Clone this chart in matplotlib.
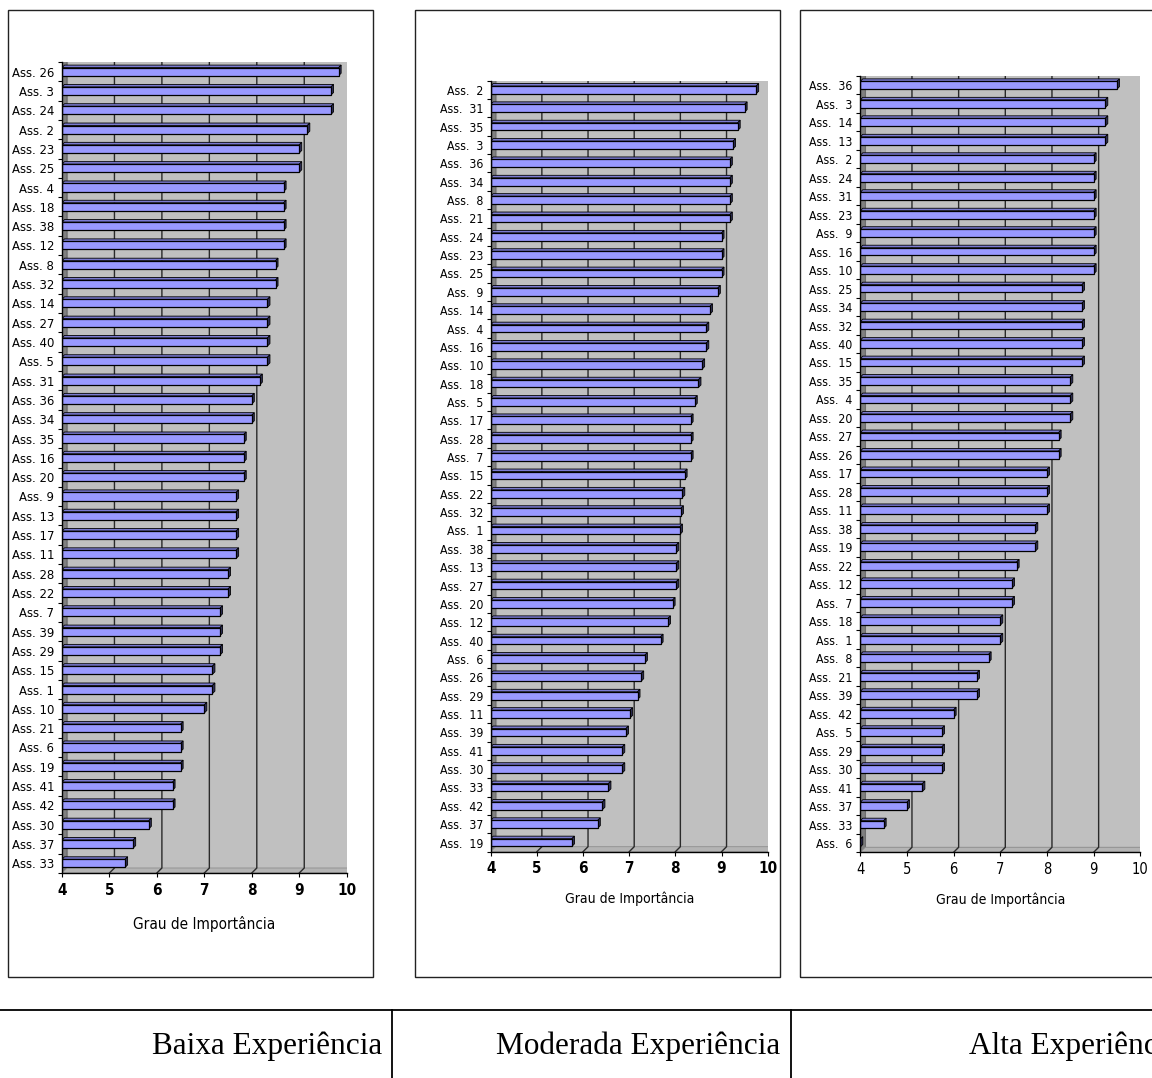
import numpy as np
import matplotlib
matplotlib.use("Agg")
import matplotlib.pyplot as plt
from matplotlib import font_manager as fm
from matplotlib.patches import Polygon, Rectangle
from matplotlib.transforms import IdentityTransform
from matplotlib.lines import Line2D

W, H, DPI = 1152, 1078, 100


def narrow_font():
    # procura uma fonte estreita instalada (tipo Arial Narrow)
    for f in fm.fontManager.ttflist:
        if "Narrow" in f.name and "Liberation" in f.name and f.weight in (400, "normal"):
            return f.name, False
    for f in fm.fontManager.ttflist:
        if f.stretch in ("condensed", "semi-condensed", 500 - 100) or "Condensed" in f.name:
            return f.name, True
    return "Liberation Sans", False


NARROW, _cond = narrow_font()
NARROW_FAM = [NARROW, "Liberation Sans", "DejaVu Sans"]
STRETCH = "condensed" if _cond else "normal"

# Baixa Experiência (top -> bottom)
baixa_lab = [26, 3, 24, 2, 23, 25, 4, 18, 38, 12, 8, 32, 14, 27, 40, 5, 31, 36, 34, 35, 16,
             20, 9, 13, 17, 11, 28, 22, 7, 39, 29, 15, 1, 10, 21, 6, 19, 41, 42, 30, 37, 33]
baixa_val = [9.83, 9.67, 9.67, 9.17, 9.0, 9.0, 8.67, 8.67, 8.67, 8.67, 8.5, 8.5, 8.33, 8.33,
             8.33, 8.33, 8.17, 8.0, 8.0, 7.83, 7.83, 7.83, 7.67, 7.67, 7.67, 7.67, 7.5, 7.5,
             7.33, 7.33, 7.33, 7.17, 7.17, 7.0, 6.5, 6.5, 6.5, 6.33, 6.33, 5.83, 5.5, 5.33]

# Moderada Experiência
mod_lab = [2, 31, 35, 3, 36, 34, 8, 21, 24, 23, 25, 9, 14, 4, 16, 10, 18, 5, 17, 28, 7,
           15, 22, 32, 1, 38, 13, 27, 20, 12, 40, 6, 26, 29, 11, 39, 41, 30, 33, 42, 37, 19]
mod_val = [9.75, 9.5, 9.35, 9.25, 9.18, 9.18, 9.18, 9.18, 9.0, 9.0, 9.0, 8.92, 8.75, 8.67,
           8.67, 8.58, 8.5, 8.42, 8.33, 8.33, 8.33, 8.2, 8.15, 8.12, 8.1, 8.02, 8.02, 8.02,
           7.94, 7.84, 7.68, 7.34, 7.26, 7.18, 7.02, 6.93, 6.85, 6.85, 6.55, 6.42, 6.32, 5.76]

# Alta Experiência
alta_lab = [36, 3, 14, 13, 2, 24, 31, 23, 9, 16, 10, 25, 34, 32, 40, 15, 35, 4, 20, 27, 26,
            17, 28, 11, 38, 19, 22, 12, 7, 18, 1, 8, 21, 39, 42, 5, 29, 30, 41, 37, 33, 6]
alta_val = [9.5, 9.25, 9.25, 9.25, 9.0, 9.0, 9.0, 9.0, 9.0, 9.0, 9.0, 8.75, 8.75, 8.75, 8.75,
            8.75, 8.5, 8.5, 8.5, 8.25, 8.25, 8.0, 8.0, 8.0, 7.75, 7.75, 7.35, 7.25, 7.25, 7.0,
            7.0, 6.75, 6.5, 6.5, 6.0, 5.75, 5.75, 5.75, 5.33, 5.0, 4.5, 4.0]

grupos = ["Baixa Experiência", "Moderada Experiência", "Alta Experiência"]
xticks = [4, 5, 6, 7, 8, 9, 10]

fig = plt.figure(figsize=(W / DPI, H / DPI), dpi=DPI)
fig.patch.set_facecolor("white")

WALL = 5.0   # profundidade da parede (px)
BAR = 2.5    # profundidade da barra (px)


def poly(ax, pts, **kw):
    a = np.array(pts, dtype=float)
    p = ax.transData.transform(a[:, :2]) + a[:, 2:]
    ax.add_artist(Polygon(p, closed=True, transform=IdentityTransform(), **kw))


def line(ax, pts, **kw):
    a = np.array(pts, dtype=float)
    q = ax.transData.transform(a[:, :2]) + a[:, 2:]
    ax.add_artist(Line2D(q[:, 0], q[:, 1], transform=IdentityTransform(), **kw))


def panel(box, area, labels, values, sep, lab_fs, tick_fs, tick_w, xl_fs, xl_pad):
    bx0, by0, bx1, by1 = box
    fig.add_artist(Rectangle((bx0 / W, 1 - by1 / H), (bx1 - bx0) / W, (by1 - by0) / H,
                             transform=fig.transFigure, fill=False, edgecolor="#222222", lw=1.0))
    x0, x1, yt, yb = area
    ax = fig.add_axes([x0 / W, 1 - yb / H, (x1 - x0) / W, (yb - yt) / H])
    n = len(values)
    ax.set_xlim(4, 10)
    ax.set_ylim(n, 0)
    ax.patch.set_visible(False)
    for s in ["top", "right"]:
        ax.spines[s].set_visible(False)
    for s in ["left", "bottom"]:
        ax.spines[s].set_color("black")
        ax.spines[s].set_linewidth(1.0)
        ax.spines[s].set_zorder(6)
    D = WALL
    # parede do fundo, parede lateral, chão
    poly(ax, [(4, 0, D, D), (10, 0, D, D), (10, n, D, D), (4, n, D, D)],
         facecolor="#c0c0c0", edgecolor="#9a9a9a", lw=0.8, zorder=0)
    poly(ax, [(4, 0, 0, 0), (4, 0, D, D), (4, n, D, D), (4, n, 0, 0)],
         facecolor="#808080", edgecolor="#606060", lw=0.6, zorder=0.5)
    poly(ax, [(4, n, 0, 0), (10, n, 0, 0), (10, n, D, D), (4, n, D, D)],
         facecolor="#b4b4b4", edgecolor="#909090", lw=0.6, zorder=0.5)
    for x in xticks[1:-1]:
        line(ax, [(x, 0, D, D), (x, n, D, D), (x, n, 0, 0)], color="#2a2a2a", lw=1.0, zorder=1)
    # barras
    h = 0.42
    ax.barh(np.arange(n) + 0.5, np.array(values) - 4, left=4, height=h,
            color="#9999ff", edgecolor="black", lw=0.9, zorder=3)
    for i, v in enumerate(values):
        t, b = i + 0.5 - h / 2, i + 0.5 + h / 2
        poly(ax, [(4, t, 0, 0), (v, t, 0, 0), (v, t, BAR, BAR), (4, t, BAR, BAR)],
             facecolor="#7a7ad0", edgecolor="black", lw=0.6, zorder=2.8)
        poly(ax, [(v, t, 0, 0), (v, b, 0, 0), (v, b, BAR, BAR), (v, t, BAR, BAR)],
             facecolor="#30305a", edgecolor="black", lw=0.6, zorder=2.9)
    # eixos
    ax.set_yticks(np.arange(n) + 0.5)
    ax.set_yticklabels([f"Ass.{sep}{k}" for k in labels], family=NARROW_FAM,
                       fontstretch=STRETCH, fontsize=lab_fs)
    ax.set_yticks(np.arange(n + 1), minor=True)
    ax.tick_params(axis="y", which="major", length=0, pad=5.5)
    ax.tick_params(axis="y", which="minor", length=3, width=0.8, color="black")
    ax.set_xticks(xticks)
    ax.set_xticklabels([str(x) for x in xticks], family=NARROW_FAM, fontstretch=STRETCH,
                       fontsize=tick_fs, fontweight=tick_w)
    ax.tick_params(axis="x", length=3, width=0.8, pad=4)
    ax.set_xlabel("Grau de Importância", family=NARROW_FAM, fontstretch=STRETCH,
                  fontsize=xl_fs, labelpad=xl_pad)
    return ax


panel((7.5, 9.5, 372.5, 976.5), (62, 346.7, 62, 873), baixa_lab, baixa_val, " ",
      9.4, 11, "bold", 11, 13)
panel((414.5, 9.5, 779.5, 976.5), (490.7, 767.7, 80.7, 851.7), mod_lab, mod_val, "  ",
      8.8, 11, "bold", 10, 11)
panel((799.5, 9.5, 1170, 976.5), (860.3, 1140.3, 76, 852.3), alta_lab, alta_val, "  ",
      8.8, 10.5, "normal", 10, 11)

# tabela com os nomes dos grupos
ytab = 1 - 1010 / H
fig.add_artist(Line2D([0, 1], [ytab, ytab], transform=fig.transFigure, color="black", lw=1.3))
for xd in [391.7, 791]:
    fig.add_artist(Line2D([xd / W, xd / W], [0, ytab], transform=fig.transFigure,
                          color="black", lw=1.3))
for g, xr in zip(grupos, [382, 780, 1180]):
    fig.text(xr / W, 1 - 1046 / H, g, ha="right", va="center", fontsize=22.5,
             family=["Liberation Serif", "DejaVu Serif"])

fig.savefig("out.png", dpi=DPI)
